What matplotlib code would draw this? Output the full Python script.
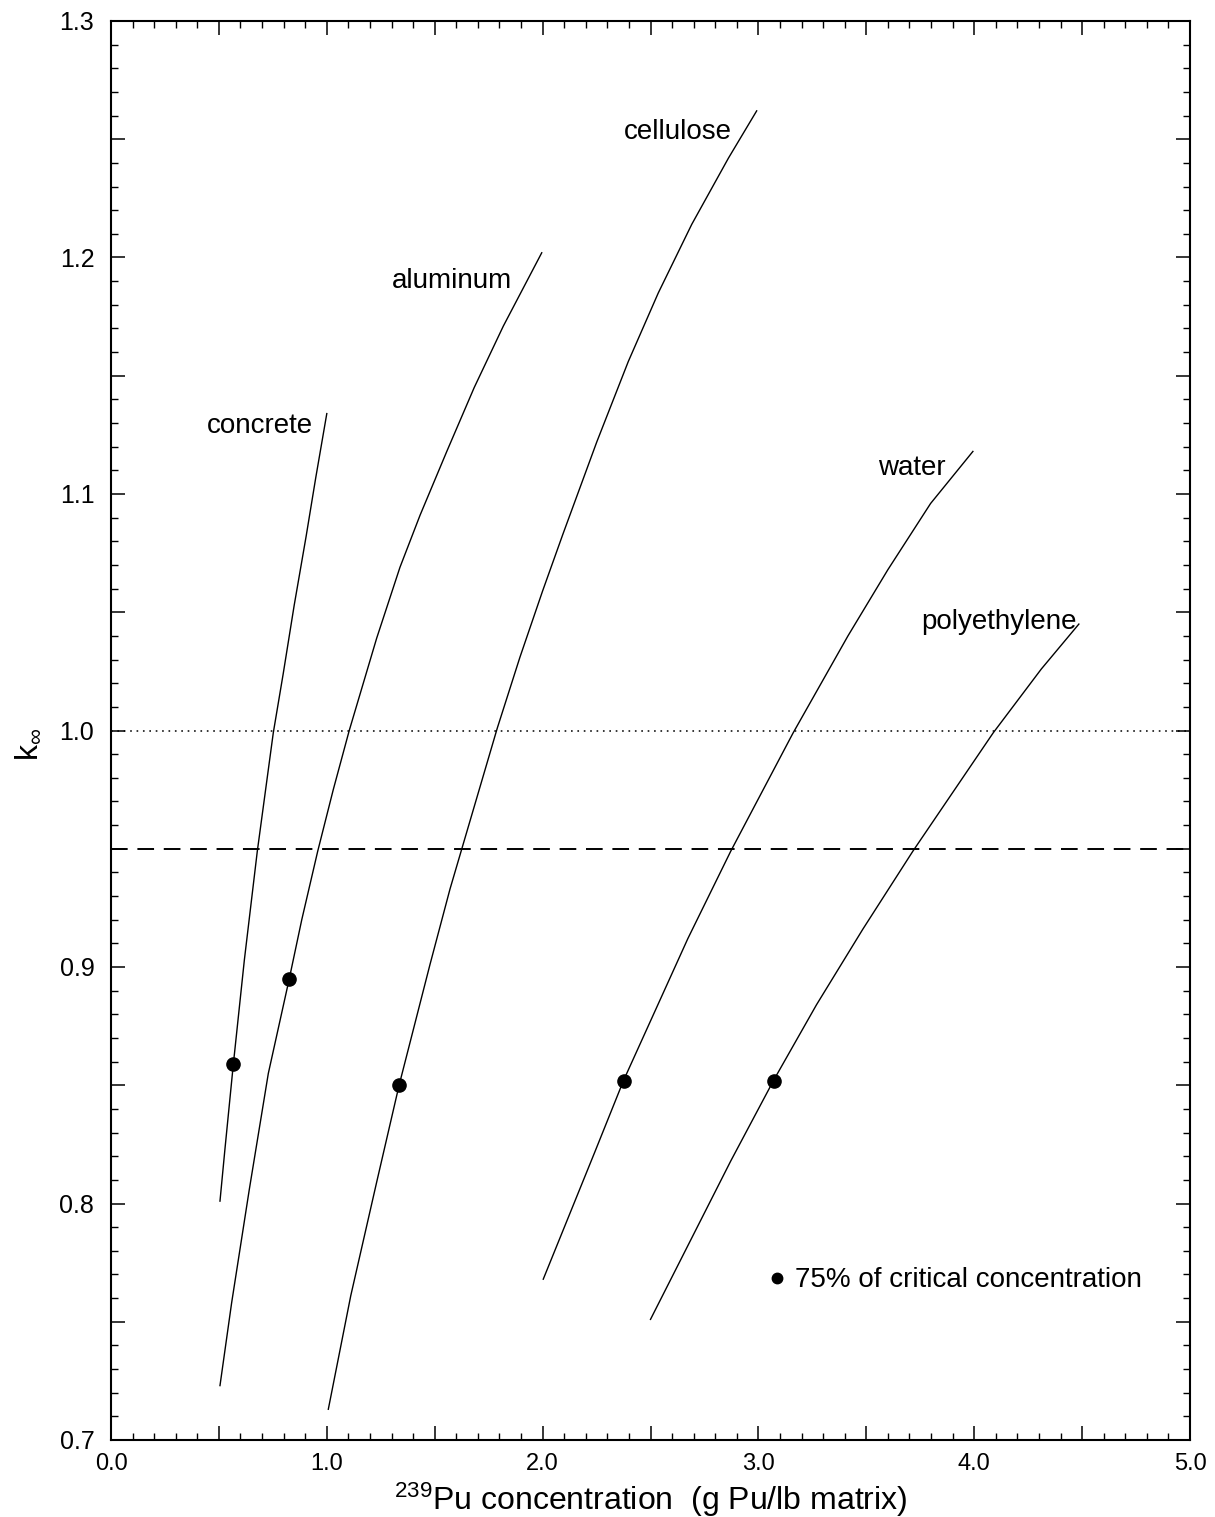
import matplotlib
matplotlib.use('Agg')
import matplotlib.pyplot as plt
from matplotlib.ticker import MultipleLocator, FuncFormatter

plt.rcParams['font.family'] = ['Liberation Sans', 'DejaVu Sans']
plt.rcParams['mathtext.fontset'] = 'custom'
plt.rcParams['mathtext.rm'] = 'Liberation Sans'
plt.rcParams['mathtext.it'] = 'Liberation Sans'
plt.rcParams['lines.scale_dashes'] = False

# curves: k-inf vs 239Pu concentration (g Pu/lb matrix)
concrete_x = [0.505, 0.528, 0.567, 0.618, 0.678, 0.752, 0.798, 0.849, 0.904, 0.949, 1.000]
concrete_y = [0.801, 0.823, 0.859, 0.903, 0.949, 0.999, 1.024, 1.053, 1.082, 1.107, 1.134]

aluminum_x = [0.505, 0.559, 0.641, 0.729, 0.826, 0.884, 0.958, 1.030, 1.104, 1.231, 1.339,
              1.432, 1.556, 1.683, 1.818, 1.996]
aluminum_y = [0.723, 0.758, 0.806, 0.855, 0.895, 0.920, 0.949, 0.975, 1.000, 1.039, 1.069,
              1.091, 1.118, 1.145, 1.171, 1.202]

cellulose_x = [1.007, 1.111, 1.231, 1.335, 1.478, 1.571, 1.790, 1.895, 2.000, 2.094, 2.251,
               2.397, 2.536, 2.691, 2.861, 2.992]
cellulose_y = [0.713, 0.761, 0.809, 0.850, 0.901, 0.933, 1.001, 1.031, 1.059, 1.083, 1.122,
               1.156, 1.185, 1.214, 1.242, 1.262]

water_x = [2.003, 2.243, 2.375, 2.673, 2.872, 3.161, 3.415, 3.600, 3.798, 3.994]
water_y = [0.768, 0.822, 0.852, 0.912, 0.949, 0.999, 1.040, 1.068, 1.096, 1.118]

poly_x = [2.500, 2.872, 3.070, 3.269, 3.484, 3.716, 4.088, 4.311, 4.485]
poly_y = [0.751, 0.818, 0.852, 0.884, 0.916, 0.949, 0.999, 1.026, 1.045]

# 75% of critical concentration points
crit_x = [0.567, 0.826, 1.335, 2.375, 3.070]
crit_y = [0.859, 0.895, 0.850, 0.852, 0.852]

curve_names = ['concrete', 'aluminum', 'cellulose', 'water', 'polyethylene']
label_x = [0.936, 1.861, 2.876, 3.868, 4.477]
label_y = [1.126, 1.187, 1.250, 1.108, 1.043]

k_critical = 1.0
k_limit = 0.95

fig = plt.figure(figsize=(12.15, 15.17), dpi=100)
ax = fig.add_axes([111 / 1215, 1 - 1440 / 1517, 1079 / 1215, 1419 / 1517])

curves = [(concrete_x, concrete_y), (aluminum_x, aluminum_y), (cellulose_x, cellulose_y),
          (water_x, water_y), (poly_x, poly_y)]
for (xs, ys) in curves:
    ax.plot(xs, ys, color='black', lw=1.0)

for name, lx, ly in zip(curve_names, label_x, label_y):
    ax.text(lx, ly, name, ha='right', va='baseline', fontsize=20)

ax.axhline(k_critical, color='black', lw=1.1, dashes=(1.2, 3.4))
ax.axhline(k_limit, color='black', lw=1.4, dashes=(12, 7))

ax.plot(crit_x, crit_y, 'o', color='black', ms=9.5, zorder=5)

# legend in the lower right
ax.plot([3.085], [0.7685], 'o', color='black', ms=7.5)
ax.text(3.170, 0.7645, '75% of critical concentration', ha='left', va='baseline', fontsize=20)

ax.set_xlim(0, 5)
ax.set_ylim(0.7, 1.3)
ax.xaxis.set_major_locator(MultipleLocator(0.5))
ax.xaxis.set_minor_locator(MultipleLocator(0.1))
ax.yaxis.set_major_locator(MultipleLocator(0.05))
ax.yaxis.set_minor_locator(MultipleLocator(0.01))
ax.xaxis.set_major_formatter(FuncFormatter(
    lambda v, p: f'{v:.1f}' if abs(v - round(v)) < 1e-6 else ''))
ax.yaxis.set_major_formatter(FuncFormatter(
    lambda v, p: f'{v:.1f}' if abs(v * 10 - round(v * 10)) < 1e-6 else ''))

ax.tick_params(which='both', direction='in', top=True, right=True)
ax.tick_params(which='major', length=10, width=1.1)
ax.tick_params(which='minor', length=5, width=1.0)
ax.tick_params(axis='x', pad=9, labelsize=17)
ax.tick_params(axis='y', pad=12, labelsize=18)
for s in ax.spines.values():
    s.set_linewidth(1.5)

ax.set_xlabel(r'$^{239}$Pu concentration  (g Pu/lb matrix)', fontsize=23)
ax.xaxis.set_label_coords(0.5, -0.029)
ax.xaxis.label.set_va('top')
ax.set_ylabel(r'k$_{\infty}$', fontsize=23)
ax.yaxis.set_label_coords(-0.062, 0.49)

fig.savefig('out.png', dpi=100)
